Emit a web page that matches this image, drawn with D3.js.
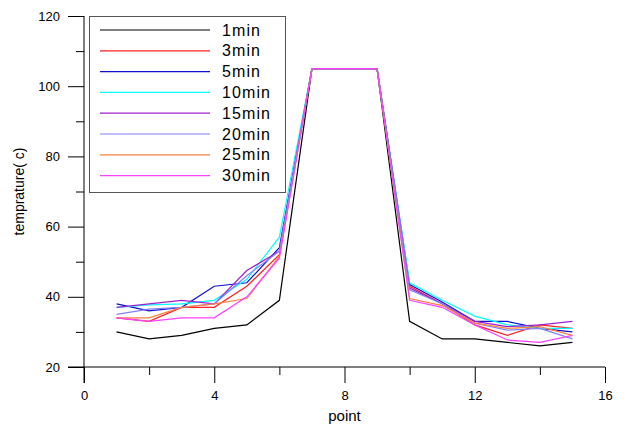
<!DOCTYPE html>
<html>
<head>
<meta charset="utf-8">
<script src="https://cdn.jsdelivr.net/npm/d3@7"></script>
<style>
  body { margin: 0; background: #fff; }
  text { font-family: "Liberation Sans", Arial, sans-serif; }
</style>
</head>
<body>
<div id="vis"></div>
<script>
const FRAME_WIDTH = 627;
const FRAME_HEIGHT = 426;
const MARGINS = {left: 84, right: 22, top: 16, bottom: 59};

// data
const points = [1, 2, 3, 4, 5, 6, 7, 8, 9, 10, 11, 12, 13, 14, 15];
const seriesNames = ["1min", "3min", "5min", "10min", "15min", "20min", "25min", "30min"];
const seriesColors = ["#000000", "#ff2020", "#1010d0", "#00ffff", "#a020d0", "#8080ff", "#ff8040", "#ff40ff"];
const t1 = [30, 28, 29, 31, 32, 39, 105, 105, 105, 33, 28, 28, 27, 26, 27];
const t3 = [34, 33, 37, 37, 43, 52, 105, 105, 105, 43, 38, 32, 29, 32, 31];
const t5 = [38, 36, 37, 43, 44, 54, 105, 105, 105, 43.5, 38.5, 33, 33, 31, 30];
const t10 = [37, 37.7, 38, 39, 45, 57, 105, 105, 105, 44, 39, 34.5, 32, 31, 31];
const t15 = [37, 38, 39, 38, 47.5, 53, 105, 105, 105, 42.5, 38, 33, 31.5, 32, 33];
const t20 = [35, 36.5, 37, 38, 46, 53, 105, 105, 105, 42, 38, 32.5, 30.5, 31, 28];
const t25 = [34, 34, 37, 38, 39.5, 51.5, 105, 105, 105, 39.5, 37.5, 32.5, 31, 31.5, 29];
const t30 = [34, 33, 34, 34, 40, 51, 105, 105, 105, 39, 37, 32, 27.7, 27, 29];
const seriesValues = [t1, t3, t5, t10, t15, t20, t25, t30];

const xMajor = [0, 4, 8, 12, 16];
const xMinor = [2, 6, 10, 14];
const yMajor = [20, 40, 60, 80, 100, 120];
const yMinor = [30, 50, 70, 90, 110];

const svg = d3.select("#vis")
  .append("svg")
    .attr("width", FRAME_WIDTH)
    .attr("height", FRAME_HEIGHT);

const X_SCALE = d3.scaleLinear()
  .domain([0, 16])
  .range([MARGINS.left, FRAME_WIDTH - MARGINS.right]);

const Y_SCALE = d3.scaleLinear()
  .domain([20, 120])
  .range([FRAME_HEIGHT - MARGINS.bottom, MARGINS.top]);

const y0 = Y_SCALE(20);
const x0 = X_SCALE(0);

// x axis, major + minor ticks pointing down
svg.append("g")
  .attr("transform", "translate(0," + y0 + ")")
  .call(d3.axisBottom(X_SCALE).tickValues(xMajor).tickSize(16).tickSizeOuter(0).tickPadding(8))
  .call(g => g.select(".domain").remove())
  .attr("font-size", "13px");
svg.append("g")
  .attr("transform", "translate(0," + y0 + ")")
  .call(d3.axisBottom(X_SCALE).tickValues(xMinor).tickSize(8).tickFormat(""))
  .call(g => g.select(".domain").remove());

// y axis, ticks pointing left
svg.append("g")
  .attr("transform", "translate(" + x0 + ",0)")
  .call(d3.axisLeft(Y_SCALE).tickValues(yMajor).tickSize(16).tickSizeOuter(0).tickPadding(8))
  .call(g => g.select(".domain").remove())
  .attr("font-size", "13px");
svg.append("g")
  .attr("transform", "translate(" + x0 + ",0)")
  .call(d3.axisLeft(Y_SCALE).tickValues(yMinor).tickSize(8).tickFormat(""))
  .call(g => g.select(".domain").remove());

svg.selectAll(".tick text").attr("fill", "#000");

// axis lines, slightly extended like the original
svg.append("line")
  .attr("x1", x0 - 16).attr("x2", X_SCALE(16))
  .attr("y1", y0).attr("y2", y0)
  .attr("stroke", "#000");
svg.append("line")
  .attr("x1", x0).attr("x2", x0)
  .attr("y1", Y_SCALE(120)).attr("y2", y0 + 16)
  .attr("stroke", "#000");

// axis titles
svg.append("text")
  .attr("x", X_SCALE(8))
  .attr("y", 421)
  .attr("text-anchor", "middle")
  .attr("font-size", "15px")
  .text("point");
svg.append("text")
  .attr("transform", "translate(24," + Y_SCALE(70) + ") rotate(-90)")
  .attr("text-anchor", "middle")
  .attr("font-size", "14px")
  .text("temprature( c)");

// lines
const line = d3.line()
  .x((d, i) => X_SCALE(points[i]))
  .y(d => Y_SCALE(d));

svg.selectAll(".series")
  .data(seriesValues)
  .enter()
  .append("path")
    .attr("class", "series")
    .attr("d", d => line(d))
    .attr("fill", "none")
    .attr("stroke", (d, i) => seriesColors[i])
    .attr("stroke-width", 1.2);

// legend
const legend = svg.append("g");
legend.append("rect")
  .attr("x", 89.5).attr("y", 16.5)
  .attr("width", 196).attr("height", 176)
  .attr("fill", "#fff")
  .attr("stroke", "#555");

const rows = legend.selectAll(".row")
  .data(seriesNames)
  .enter()
  .append("g")
    .attr("transform", (d, i) => "translate(0," + (30 + i * 20.8) + ")");
rows.append("line")
  .attr("x1", 100).attr("x2", 210)
  .attr("stroke", (d, i) => seriesColors[i])
  .attr("stroke-width", 1.2);
rows.append("text")
  .attr("x", 222)
  .attr("y", 5.5)
  .attr("font-size", "16px")
  .attr("letter-spacing", "1.1px")
  .text(d => d);
</script>
</body>
</html>
